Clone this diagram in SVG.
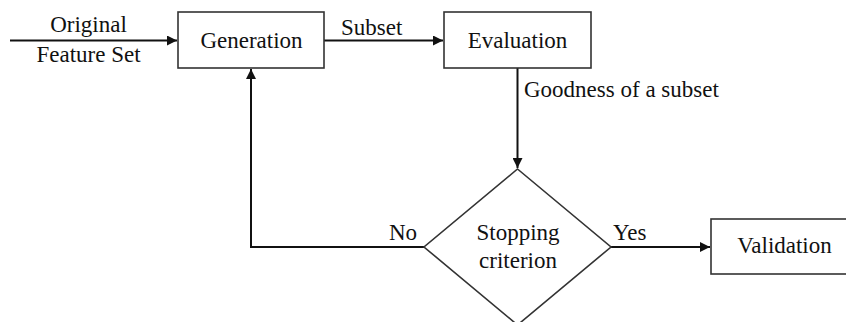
<svg xmlns="http://www.w3.org/2000/svg" width="846" height="322" viewBox="0 0 846 322">
<style>
.box{fill:#fff;stroke:#333;stroke-width:1.6}
.t{font-family:"Liberation Serif","Times New Roman",serif;font-size:23px;fill:#111}
.c{text-anchor:middle}
.ln{fill:none;stroke:#111;stroke-width:2}
</style>
<defs>
<marker id="ah" viewBox="0 0 10 10" refX="10" refY="5" markerWidth="10" markerHeight="10" markerUnits="userSpaceOnUse" orient="auto">
<path d="M0,0 L10,5 L0,10 z" fill="#111"/>
</marker>
</defs>
<g id="connectors">
<line class="ln" x1="10" y1="40.5" x2="177" y2="40.5" marker-end="url(#ah)"/>
<line class="ln" x1="324" y1="40.5" x2="443" y2="40.5" marker-end="url(#ah)"/>
<line class="ln" x1="517.5" y1="68" x2="517.5" y2="168" marker-end="url(#ah)"/>
<polyline class="ln" points="424,247 251,247 251,69" marker-end="url(#ah)"/>
<line class="ln" x1="611" y1="247" x2="710" y2="247" marker-end="url(#ah)"/>
<text class="t c" x="88.5" y="32">Original</text>
<text class="t c" x="88.5" y="62">Feature Set</text>
<text class="t" x="341" y="35">Subset</text>
<text class="t" x="524" y="97">Goodness of a subset</text>
<text class="t" x="389" y="240">No</text>
<text class="t" x="613" y="240">Yes</text>
</g>
<g id="generation">
<rect class="box" x="178" y="12" width="146" height="56"/>
<text class="t c" x="251.5" y="48">Generation</text>
</g>
<g id="evaluation">
<rect class="box" x="444" y="12" width="147" height="56"/>
<text class="t c" x="517.5" y="48">Evaluation</text>
</g>
<g id="stopping">
<polygon class="box" points="517.5,169 611,247 517.5,325 424,247"/>
<text class="t c" x="518" y="240">Stopping</text>
<text class="t c" x="518" y="268">criterion</text>
</g>
<g id="validation">
<rect class="box" x="711" y="219" width="140" height="55"/>
<text class="t c" x="784.5" y="253">Validation</text>
</g>
</svg>
